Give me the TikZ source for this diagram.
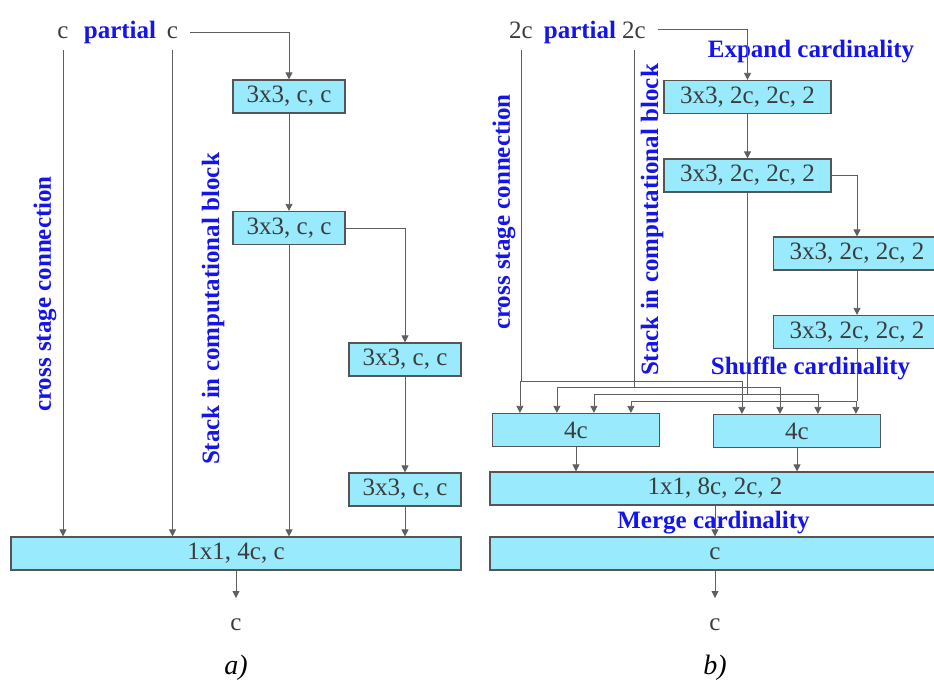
\documentclass[tikz,border=0pt]{standalone}
\usepackage{fontspec}
\setmainfont{Liberation Serif}
\usetikzlibrary{arrows.meta,positioning,calc}
\definecolor{boxfill}{RGB}{152,234,252}
\definecolor{boxline}{RGB}{85,85,85}
\definecolor{wirecol}{RGB}{95,95,95}
\definecolor{txtcol}{RGB}{60,60,60}
\definecolor{labblue}{RGB}{20,20,235}

\begin{document}
\begin{tikzpicture}[x=1pt,y=-1pt,
    blk/.style={draw=boxline, line width=1.2pt, fill=boxfill, inner sep=0pt, minimum height=33pt, text=txtcol, font=\fontsize{25}{30}\selectfont},
    conv/.style={blk, minimum width=112pt},
    gconv/.style={blk, minimum width=167pt},
    wide/.style={blk, minimum width=450pt},
    txt/.style={text=txtcol, font=\fontsize{25}{30}\selectfont},
    inp/.style={txt, anchor=base, inner sep=12pt},
    outp/.style={txt, anchor=base, inner sep=20pt},
    note/.style={text=labblue, font=\bfseries\fontsize{25}{30}\selectfont},
    subcap/.style={text=black, font=\itshape\fontsize{28}{34}\selectfont},
    wire/.style={draw=wirecol, line width=0.8pt},
    arr/.style={wire, -{Triangle[length=7pt,width=7pt]}}
  ]
  \useasboundingbox (0,0) rectangle (934,680);

  % a) eingang
  \node[inp] (ain1) at (63,38) {c};
  \node[note, anchor=base] (apart) at (120,38) {partial};
  \node[inp] (ain2) at (172.5,38) {c};

  % a) block
  \node[conv] (a1) at (289,96.5) {3x3, c, c};
  \node[conv] (a2) at (289,228) {3x3, c, c};
  \node[conv] (a3) at (405,359.5) {3x3, c, c};
  \node[conv] (a4) at (405,489.5) {3x3, c, c};
  \node[wide] (amerge) at (236,553.5) {1x1, 4c, c};
  \node[outp] (aout) at (236,630) {c};
  \node[subcap] (acap) at (236,668) {a)};
  \node[note, rotate=90] (across) at (45,294) {cross stage connection};
  \node[note, rotate=90] (astack) at (213,309) {Stack in computational block};

  \draw[arr] (ain1.south) -- (ain1.south |- amerge.north);
  \draw[arr] (ain2.south) -- (ain2.south |- amerge.north);
  \draw[arr] (ain2.east) -| (a1.north);
  \draw[arr] (a1) -- (a2);
  \draw[arr] (a2.east) -| (a3.north);
  \draw[arr] (a3) -- (a4);
  \draw[arr] (a2.south) -- (a2.south |- amerge.north);
  \draw[arr] (a4.south) -- (a4.south |- amerge.north);
  \draw[arr] (amerge) -- (aout);

  % b) eingang
  \node[inp] (bin1) at (521,38) {2c};
  \node[note, anchor=base] (bpart) at (580,38) {partial};
  \node[inp] (bin2) at (634,38) {2c};

  % b) block
  \node[note, anchor=base] (bexp) at (811,57) {Expand cardinality};
  \node[gconv] (b1) at (747.5,97) {3x3, 2c, 2c, 2};
  \node[gconv] (b2) at (747.5,175.5) {3x3, 2c, 2c, 2};
  \node[gconv] (b3) at (857,253.5) {3x3, 2c, 2c, 2};
  \node[gconv] (b4) at (857,332) {3x3, 2c, 2c, 2};
  \node[note, anchor=base] (bshuf) at (810.5,374) {Shuffle cardinality};
  \node[gconv] (bcatl) at (576,430) {4c};
  \node[gconv] (bcatr) at (797,431) {4c};
  \node[wide] (bmerge) at (715,488.5) {1x1, 8c, 2c, 2};
  \node[note, anchor=base] (bmrg) at (713.5,528) {Merge cardinality};
  \node[wide] (bfin) at (715,553.5) {c};
  \node[outp] (bout) at (715,630) {c};
  \node[subcap] (bcap) at (715,668) {b)};
  \node[note, rotate=90] (bcross) at (504,212) {cross stage connection};
  \node[note, rotate=90] (bstack) at (652,220) {Stack in computational block};

  \draw[arr] (bin2.east) -| (b1.north);
  \draw[arr] (b1) -- (b2);
  \draw[arr] (b2.east) -| (b3.north);
  \draw[arr] (b3) -- (b4);

  % shuffle
  \foreach \src/\lev [count=\i from 0] in {bin1/381,bin2/387,b2/394,b4/401}{
    \coordinate (sl\i) at ($(bcatl.north west)+(28+37*\i,0)$);
    \coordinate (sr\i) at ($(bcatr.north west)+(29+38*\i,0)$);
    \draw[wire] (\src.south) -- (\src.south |- 0,\lev);
    \draw[wire] (sl\i |- 0,\lev) -- (sr\i |- 0,\lev);
    \draw[arr] (sl\i |- 0,\lev) -- (sl\i);
    \draw[arr] (sr\i |- 0,\lev) -- (sr\i);
  }

  \draw[arr] (bcatl.south) -- (bcatl.south |- bmerge.north);
  \draw[arr] (bcatr.south) -- (bcatr.south |- bmerge.north);
  \draw[arr] (bmerge.south) -- (bfin.north);
  \draw[arr] (bfin) -- (bout);
\end{tikzpicture}
\end{document}
